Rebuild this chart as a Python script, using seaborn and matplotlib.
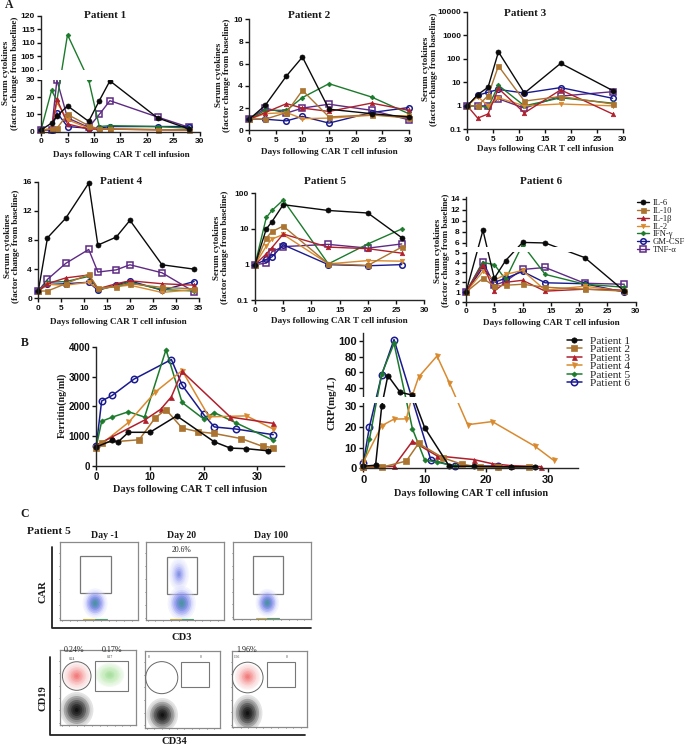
import numpy as np
import matplotlib
matplotlib.use("Agg")
import matplotlib.pyplot as plt
import seaborn as sns
from matplotlib.patches import Ellipse, Rectangle

W, H = 685, 746

# Panel A, factor change from baseline
p1_days = [0, 2, 3, 5, 9, 11, 13, 22, 28]
p1_il6 = [1, 5, 9, 15, 6, 18, 29.5, 8, 1.5]
p1_il10 = [1, 1.5, 2, 10, 3.5, 1.5, 1.5, 1.2, 1]
p1_il1b = [1, 1.5, 19, 4.5, 1.5, 1.5, 1.5, 1.2, 1]
p1_il2 = [1, 1.5, 17, 7, 2, 1.5, 1.5, 1, 1]
p1_ifng = [1, 24, 18, 113, 30, 3, 3.5, 3, 2]
p1_gmcsf = [1, 1.2, 11, 3, 2, 2, 3, 3, 3]
p1_tnfa = [1, 1, 30, 8, 2.5, 10, 18, 8.5, 2.5]

p2_days = [0, 3, 7, 10, 15, 23, 30]
p2_il6 = [1, 2.25, 4.9, 6.6, 1.9, 1.5, 1.2]
p2_il10 = [1, 1, 1.6, 3.6, 1.2, 1.4, 1.1]
p2_il1b = [1, 1.6, 2.4, 2.0, 1.7, 2.45, 1.8]
p2_il2 = [1, 1.5, 1.6, 1.05, 1.1, 1.35, 1.3]
p2_ifng = [1, 1.8, 1.8, 2.95, 4.2, 3.0, 1.5]
p2_gmcsf = [1, 1.0, 0.85, 1.25, 0.65, 1.6, 2.05]
p2_tnfa = [1, 2.0, 1.55, 2.0, 2.35, 1.8, 0.95]

p3_days = [0, 2, 4, 6, 11, 18, 28]
p3_il6 = [1, 3, 6.2, 200, 3.5, 65, 4.5]
p3_il10 = [1, 1, 2.7, 50, 1.6, 2.5, 1.2]
p3_il1b = [1, 0.3, 0.45, 5.5, 0.5, 4.8, 0.45]
p3_il2 = [1, 2.5, 1, 2.2, 1, 1.2, 1]
p3_ifng = [1, 1, 0.85, 7.5, 1, 2.2, 1.3]
p3_gmcsf = [1, 2.8, 3.8, 5, 3.5, 6, 2.1]
p3_tnfa = [1, 1, 1, 2, 0.8, 2.6, 4]

p4_days = [0, 2, 6, 11, 13, 17, 20, 27, 34]
p4_il6 = [1, 8.3, 11, 15.8, 7.3, 8.4, 10.7, 4.6, 4.0]
p4_il10 = [1, 1, 2, 3.3, 1.4, 1.6, 2, 1.5, 1.3]
p4_il1b = [1, 2, 2.8, 3.2, 1.3, 2, 2.4, 2, 1.8]
p4_il2 = [1, 1.9, 1.8, 2.2, 1.3, 1.6, 1.8, 0.8, 1.2]
p4_ifng = [1, 2.2, 2.3, 3, 1.2, 1.7, 2.2, 1.2, 1]
p4_gmcsf = [1, 1.9, 2, 2.2, 1.1, 1.8, 2.4, 1.1, 2.3]
p4_tnfa = [1, 2.6, 4.8, 6.7, 3.6, 3.9, 4.6, 3.5, 0.9]

p5_days = [0, 2, 3, 5, 13, 20, 26]
p5_il6 = [1, 10, 16, 48, 33, 28, 5.7]
p5_il10 = [1, 5.5, 8.5, 12, 1.05, 0.95, 3.1]
p5_il1b = [1, 2, 3, 7.2, 3.1, 2.8, 2.1]
p5_il2 = [1, 3.3, 5.2, 7, 1.05, 1.3, 1.25]
p5_ifng = [1, 21, 33, 65, 1.05, 3.8, 10]
p5_gmcsf = [1, 1.4, 1.65, 3.6, 1.0, 0.93, 1.0]
p5_tnfa = [1, 1.1, 2.3, 3.2, 3.7, 2.9, 3.8]

p6_days = [0, 3, 5, 7, 10, 14, 21, 28]
p6_il6 = [1, 8.3, 2.4, 4.2, 6.1, 6.0, 4.5, 1.1]
p6_il10 = [1, 2.4, 1.6, 1.7, 1.8, 1.5, 1.3, 1.1]
p6_il1b = [1, 3.8, 1.1, 2, 2.2, 1.1, 1.3, 1.2]
p6_il2 = [1, 3.1, 2.2, 2.8, 3.2, 1.2, 1.6, 1.1]
p6_ifng = [1, 4.0, 3.8, 2.3, 5.7, 2.8, 1.8, 1.5]
p6_gmcsf = [1, 3.5, 2, 2.4, 3.1, 1.95, 1.85, 1.0]
p6_tnfa = [1, 4.1, 1.7, 2.1, 3.3, 3.5, 1.9, 1.8]

cytokine_names = ["IL-6", "IL-10", "IL-1β", "IL-2", "IFN-γ", "GM-CSF", "TNF-α"]

# Panel B, ferritin
fer1_days = [0, 3, 4, 6, 10, 15, 22, 25, 28, 32]
fer1 = [640, 860, 800, 1130, 1130, 1680, 810, 600, 580, 510]
fer2_days = [0, 1, 8, 11, 13, 16, 19, 22, 27, 31, 33]
fer2 = [600, 780, 880, 1620, 1890, 1270, 1150, 1090, 920, 660, 620]
fer3_days = [0, 3, 9, 12, 14, 16, 25, 33]
fer3 = [700, 980, 1540, 1900, 2320, 3170, 1640, 1430]
fer4_days = [0, 6, 11, 16, 21, 28, 33]
fer4 = [600, 1460, 2480, 3200, 1650, 1680, 1240]
fer5_days = [0, 1, 3, 6, 9, 13, 16, 20, 22, 26, 33]
fer5 = [650, 1500, 1640, 1820, 1640, 3900, 2130, 1580, 1790, 1450, 860]
fer6_days = [0, 1, 3, 7, 14, 16, 20, 22, 26, 33]
fer6 = [680, 2180, 2370, 2910, 3570, 2710, 1730, 1310, 1240, 1050]

# Panel B, CRP
crp1_days = [0, 2, 3, 4, 6, 8, 10, 14, 18, 24, 28]
crp1 = [1, 1.5, 30, 56, 34.5, 31, 19.5, 1, 1, 0.7, 0.8]
crp2_days = [0, 3, 7, 9, 13, 16, 19, 22, 27]
crp2 = [0.5, 0.5, 3.5, 12, 5, 2, 0.5, 0.5, 0.5]
crp3_days = [0, 5, 8, 12, 18, 21, 24, 29]
crp3 = [0.5, 1, 13, 6, 4.2, 2.2, 1.3, 0.8]
crp4_days = [0, 3, 5, 7, 8, 9, 12, 14, 17, 21, 28, 31]
crp4 = [3, 20.5, 23.7, 23.8, 31, 54, 81, 47, 21, 22.5, 10.5, 3.8]
crp5_days = [0, 1, 3, 5, 8, 10, 12, 15, 22]
crp5 = [1, 14, 58, 97, 19, 4, 3, 1, 0.5]
crp6_days = [0, 1, 3, 5, 11, 15, 22]
crp6 = [2.5, 20, 57, 102, 4, 1, 1]

patient_names = ["Patient 1", "Patient 2", "Patient 3", "Patient 4", "Patient 5", "Patient 6"]

line_colors = ["#0a0a0a", "#ab7430", "#b0202c", "#d98a2e", "#1c7a2c", "#1a1a8f", "#5e2a84"]
patient_colors = ["#0a0a0a", "#ab7430", "#b0202c", "#d98a2e", "#1c7a2c", "#1a1a8f"]
line_markers = ["o", "s", "^", "v", "D", "o", "s"]
patient_markers = ["o", "s", "^", "v", "D", "o"]

sns.set_theme(style="ticks")
plt.rcParams["font.family"] = "Liberation Serif"
plt.rcParams["axes.linewidth"] = 1.0

SANS = "Liberation Sans"
fig = plt.figure(figsize=(W / 100, H / 100), dpi=100)


def px_axes(left, right, top, bottom):
    return fig.add_axes([left / W, 1 - bottom / H, (right - left) / W, (bottom - top) / H])


def px_text(x, y, s, **kw):
    kw.setdefault("ha", "center")
    kw.setdefault("va", "center")
    return fig.text(x / W, 1 - y / H, s, **kw)


def break_axis(ax, data_knots, px_knots, gap):
    # piecewise scale so a segment stays straight across the break, like prism does
    def forward(v):
        return np.interp(v, data_knots, px_knots)

    def inverse(v):
        return np.interp(v, px_knots, data_knots)

    ax.set_yscale("function", functions=(forward, inverse))
    ax.set_ylim(data_knots[0], data_knots[-1])
    # only wide enough to cut the spine, the tick labels stay visible
    ax.add_patch(Rectangle((-0.012, gap[0]), 1.02, gap[1] - gap[0],
                           transform=ax.get_yaxis_transform(), fc="white", ec="none",
                           clip_on=False, zorder=5))


def style_axis(ax, xticks, xlim, yticks, yticklabels=None, size=6.0):
    sns.despine(ax=ax)
    ax.set_xlim(*xlim)
    ax.set_xticks(xticks)
    ax.set_yticks(yticks)
    if yticklabels is not None:
        ax.set_yticklabels(yticklabels)
    ax.minorticks_off()
    ax.tick_params(length=3, width=1.0, pad=1.5, labelsize=size, colors="#111111")
    for lab in ax.get_xticklabels() + ax.get_yticklabels():
        lab.set_fontfamily(SANS)
        lab.set_fontweight("bold")
    ax.set_xlabel("")
    ax.set_ylabel("")
    ax.patch.set_alpha(0)


def draw_series(ax, days, values, color, marker, open_marker, ms, lw=1.0):
    kw = dict(markerfacecolor="none" if open_marker else color)
    sns.lineplot(x=days, y=values, ax=ax, color=color, marker=marker, markersize=ms,
                 markeredgecolor=color, markeredgewidth=1.1 if open_marker else 0.5,
                 linewidth=lw, sort=False, errorbar=None, clip_on=False, **kw)


a_ms = [3.6, 3.6, 3.2, 3.2, 2.4, 4.0, 4.0]


def draw_cytokines(ax, days, series):
    # last cytokine goes down first so IL-6 ends on top
    for i in reversed(range(len(series))):
        draw_series(ax, days, series[i], line_colors[i], line_markers[i], i >= 5, a_ms[i])


YLABEL = "Serum cytokines\n(factor change from baseline)"
XLABEL = "Days following CAR T cell infusion"
bold = dict(fontweight="bold", color="#1a1a1a")

# Patient 1
ax1 = px_axes(41, 200, 16, 131.7)
break_axis(ax1, [0, 30, 100, 120], [0, 51.7, 62.2, 115.7], (31, 99.3))
draw_cytokines(ax1, p1_days, [p1_il6, p1_il10, p1_il1b, p1_il2, p1_ifng, p1_gmcsf, p1_tnfa])
style_axis(ax1, range(0, 31, 5), (0, 30), [0, 10, 20, 30, 100, 105, 110, 115, 120])
px_text(104.7, 15.7, "Patient 1", fontsize=8, **bold)
px_text(121, 154.7, XLABEL, fontsize=6.6, **bold)
px_text(10.5, 73, YLABEL, fontsize=6.6, rotation=90, linespacing=1.1, **bold)

# Patient 2
ax2 = px_axes(249.3, 408.7, 19.3, 130.3)
draw_cytokines(ax2, p2_days, [p2_il6, p2_il10, p2_il1b, p2_il2, p2_ifng, p2_gmcsf, p2_tnfa])
ax2.set_ylim(0, 10)
style_axis(ax2, range(0, 31, 5), (0, 30), [0, 2, 4, 6, 8, 10])
px_text(309, 15, "Patient 2", fontsize=8, **bold)
px_text(329, 152, XLABEL, fontsize=6.6, **bold)
px_text(223, 75, YLABEL, fontsize=6.6, rotation=90, linespacing=1.1, **bold)

# Patient 3
ax3 = px_axes(467.3, 623, 12, 129.3)
draw_cytokines(ax3, p3_days, [p3_il6, p3_il10, p3_il1b, p3_il2, p3_ifng, p3_gmcsf, p3_tnfa])
ax3.set_yscale("log")
ax3.set_ylim(0.1, 10000)
style_axis(ax3, range(0, 31, 5), (0, 30), [0.1, 1, 10, 100, 1000, 10000],
           ["0.1", "1", "10", "100", "1000", "10000"])
px_text(524.7, 14, "Patient 3", fontsize=8, **bold)
px_text(545.5, 149, XLABEL, fontsize=6.6, **bold)
px_text(430, 69, YLABEL, fontsize=6.6, rotation=90, linespacing=1.1, **bold)

# Patient 4
ax4 = px_axes(38.3, 198.7, 181.7, 298.3)
draw_cytokines(ax4, p4_days, [p4_il6, p4_il10, p4_il1b, p4_il2, p4_ifng, p4_gmcsf, p4_tnfa])
ax4.set_ylim(0, 16)
style_axis(ax4, range(0, 36, 5), (0, 35), [0, 4, 8, 12, 16])
px_text(120.7, 182, "Patient 4", fontsize=8, **bold)
px_text(118.5, 321.7, XLABEL, fontsize=6.6, **bold)
px_text(12, 246, YLABEL, fontsize=6.6, rotation=90, linespacing=1.1, **bold)

# Patient 5
ax5 = px_axes(255, 424.3, 193.3, 300.3)
draw_cytokines(ax5, p5_days, [p5_il6, p5_il10, p5_il1b, p5_il2, p5_ifng, p5_gmcsf, p5_tnfa])
ax5.set_yscale("log")
ax5.set_ylim(0.1, 100)
style_axis(ax5, range(0, 31, 5), (0, 30), [0.1, 1, 10, 100], ["0.1", "1", "10", "100"])
px_text(325, 182, "Patient 5", fontsize=8, **bold)
px_text(339.5, 320.7, XLABEL, fontsize=6.6, **bold)
px_text(221, 247.5, YLABEL, fontsize=6.6, rotation=90, linespacing=1.1, **bold)

# Patient 6
ax6 = px_axes(466, 635.7, 196.7, 302)
break_axis(ax6, [0, 5, 5.45, 14.4], [0, 49.3, 56, 105.3], (5.06, 5.4))
draw_cytokines(ax6, p6_days, [p6_il6, p6_il10, p6_il1b, p6_il2, p6_ifng, p6_gmcsf, p6_tnfa])
style_axis(ax6, range(0, 31, 5), (0, 30), [0, 1, 2, 3, 4, 5, 6, 8, 10, 12, 14])
px_text(540.7, 181, "Patient 6", fontsize=8, **bold)
px_text(551, 322.7, XLABEL, fontsize=6.6, **bold)
px_text(442, 250.5, YLABEL, fontsize=6.6, rotation=90, linespacing=1.1, **bold)

# cytokine legend, handles in legend order
handles_a = []
for i in range(7):
    line, = ax6.plot([], [], color=line_colors[i], marker=line_markers[i], lw=1.0, ms=a_ms[i],
                     mfc="none" if i >= 5 else line_colors[i], mec=line_colors[i],
                     mew=1.1 if i >= 5 else 0.5)
    handles_a.append(line)
fig.legend(handles_a, cytokine_names, loc="upper left", bbox_to_anchor=(637 / W, 1 - 199 / H),
           frameon=False, fontsize=6.2, labelspacing=-0.02, handlelength=1.35, handletextpad=0.5,
           borderpad=0, borderaxespad=0, labelcolor="#222222")

# Ferritin
axf = px_axes(96.3, 284, 346.7, 466)
fer_days = [fer1_days, fer2_days, fer3_days, fer4_days, fer5_days, fer6_days]
fer_vals = [fer1, fer2, fer3, fer4, fer5, fer6]
b_ms = [3.8, 3.8, 3.6, 3.6, 2.6, 4.6]
for i in reversed(range(6)):
    draw_series(axf, fer_days[i], fer_vals[i], patient_colors[i], patient_markers[i], i == 5, b_ms[i], lw=1.1)
axf.set_ylim(0, 4000)
style_axis(axf, [0, 10, 20, 30], (0, 35), [0, 1000, 2000, 3000, 4000], size=7.0)
px_text(24.7, 343, "B", fontsize=8.5, **bold)
px_text(190, 489, XLABEL, fontsize=7.4, **bold)
px_text(61.7, 405.8, "Ferritin(ng/ml)", fontsize=7.2, rotation=90, **bold)

# CRP
axc = px_axes(363.3, 578.3, 333.3, 468.3)
break_axis(axc, [0, 30, 30.2, 110], [0, 62.3, 72.6, 135], (30.05, 30.18))
crp_days = [crp1_days, crp2_days, crp3_days, crp4_days, crp5_days, crp6_days]
crp_vals = [crp1, crp2, crp3, crp4, crp5, crp6]
for i in reversed(range(6)):
    draw_series(axc, crp_days[i], crp_vals[i], patient_colors[i], patient_markers[i], i == 5, b_ms[i], lw=1.1)
style_axis(axc, [0, 10, 20, 30], (0, 35), [0, 10, 20, 30, 40, 60, 80, 100], size=8.0)
px_text(471, 493, XLABEL, fontsize=7.4, **bold)
px_text(332, 402.5, "CRP(mg/L)", fontsize=7.8, rotation=90, **bold)

handles_b = []
for i in range(6):
    line, = axc.plot([], [], color=patient_colors[i], marker=patient_markers[i], lw=1.1, ms=b_ms[i],
                     mfc="none" if i == 5 else patient_colors[i], mec=patient_colors[i],
                     mew=1.1 if i == 5 else 0.5)
    handles_b.append(line)
fig.legend(handles_b, patient_names, loc="upper left", bbox_to_anchor=(567 / W, 1 - 336 / H),
           frameon=False, fontsize=8.2, labelspacing=-0.13, handlelength=1.3, handletextpad=0.7,
           borderpad=0, borderaxespad=0, labelcolor="#222222")

# Panel C flow plots, population centre and spread as fractions of each plot
car_boxes = [(60.3, 138.3, 541.7, 620), (146, 224.3, 541.7, 620), (232.7, 310.7, 542.3, 619.3)]
car_gates = [(0.256, 0.646, 0.34, 0.817), (0.265, 0.655, 0.335, 0.81), (0.26, 0.65, 0.33, 0.82)]
car_main_x = [0.446, 0.456, 0.444]
car_main_y = [0.214, 0.214, 0.214]
car_main_rx = [0.16, 0.18, 0.15]
car_main_ry = [0.19, 0.22, 0.18]
car_pos_cluster = [0.42, 0.584, 0.13, 0.21]

cd19_boxes = [(60, 136, 650, 725), (145.3, 220, 650.7, 727.7), (231.7, 306.7, 650.7, 727.3)]
cd19_circles = [(0.22, 0.653, 0.376, 0.381), (0.22, 0.65, 0.43, 0.416), (0.213, 0.65, 0.41, 0.40)]
cd19_rects = [(0.454, 0.892, 0.46, 0.853), (0.482, 0.849, 0.525, 0.85), (0.473, 0.84, 0.52, 0.85)]
cd19_neg_x = [0.22, 0.228, 0.21]
cd19_neg_y = [0.20, 0.165, 0.185]
cd19_neg_rx = [0.22, 0.21, 0.20]
cd19_neg_ry = [0.24, 0.22, 0.24]
cd19_pos = [(0.22, 0.653, 0.18, 0.18), None, (0.213, 0.66, 0.17, 0.17)]


def blob(ax, x, y, rx, ry, colors, alpha=0.28, steps=9):
    for k in range(steps):
        frac = 1 - k / steps
        c = colors[min(int(k / steps * len(colors)), len(colors) - 1)]
        ax.add_patch(Ellipse((x, y), 2 * rx * frac, 2 * ry * frac, fc=c, ec="none", alpha=alpha))


def flow_axes(box, edge):
    ax = px_axes(box[0], box[1], box[2], box[3])
    ax.set_xlim(0, 1)
    ax.set_ylim(0, 1)
    ax.set_xticks(np.arange(0.02, 1, 0.1))
    ax.set_yticks(np.arange(0.03, 1, 0.165))
    ax.tick_params(length=1, width=0.5, labelbottom=False, labelleft=False, color="#444444", direction="out")
    for s in ax.spines.values():
        s.set_color(edge)
        s.set_linewidth(0.9)
    return ax


car_colors = ["#d5d8fc", "#a5abf5", "#6f79ea", "#3d60c8", "#2a8a90", "#2f9a55"]
for i in range(3):
    ax = flow_axes(car_boxes[i], "#8a8a8a")
    g = car_gates[i]
    ax.add_patch(Rectangle((g[0], g[2]), g[1] - g[0], g[3] - g[2], fc="none", ec="#777777", lw=0.9))
    blob(ax, car_main_x[i], car_main_y[i], car_main_rx[i], car_main_ry[i], car_colors)
    if i == 1:
        blob(ax, car_pos_cluster[0], car_pos_cluster[1], car_pos_cluster[2], car_pos_cluster[3],
             car_colors[:4], alpha=0.2)
    ax.plot([car_main_x[i] - 0.15, car_main_x[i]], [0.015, 0.015], color="#c9b040", lw=0.8)
    ax.plot([car_main_x[i], car_main_x[i] + 0.15], [0.015, 0.015], color="#4aa06a", lw=0.8)

neg_colors = ["#c4c4c4", "#707070", "#333333", "#111111", "#000000"]
pos_colors = ["#fbd0d0", "#f9a5a5", "#f57f7f", "#ee5c5c"]
for i in range(3):
    ax = flow_axes(cd19_boxes[i], "#8a8a8a")
    c = cd19_circles[i]
    ax.add_patch(Ellipse((c[0], c[1]), c[2], c[3], fc="none", ec="#666666", lw=0.7, zorder=3))
    r = cd19_rects[i]
    ax.add_patch(Rectangle((r[0], r[2]), r[1] - r[0], r[3] - r[2], fc="none", ec="#777777", lw=0.8, zorder=3))
    blob(ax, cd19_neg_x[i], cd19_neg_y[i], cd19_neg_rx[i], cd19_neg_ry[i], neg_colors, alpha=0.45)
    if cd19_pos[i] is not None:
        p = cd19_pos[i]
        blob(ax, p[0], p[1], p[2], p[3], pos_colors, alpha=0.3)
    if i == 0:
        blob(ax, 0.655, 0.667, 0.19, 0.16, ["#d8f3d2", "#bfeab5", "#9fdd95"], alpha=0.35)

# L shaped frames round the flow plots
overlay = fig.add_axes([0, 0, 1, 1], zorder=-1)
overlay.set_xlim(0, W)
overlay.set_ylim(H, 0)
overlay.axis("off")
overlay.plot([51.7, 51.7, 310.7], [546.7, 627.5, 627.5], color="#222222", lw=1.3)
overlay.plot([50, 50, 305], [656.7, 734.5, 734.5], color="#222222", lw=1.3)

px_text(8.7, 5, "A", fontsize=8.5, **bold)
px_text(25, 514, "C", fontsize=8.5, **bold)
px_text(48.5, 531, "Patient 5", fontsize=8.2, **bold)
px_text(105, 535, "Day -1", fontsize=7, **bold)
px_text(181.7, 535, "Day 20", fontsize=7, **bold)
px_text(271, 535, "Day 100", fontsize=7, **bold)
px_text(182, 549.5, "20.6%", fontsize=5.5, color="#222222")
px_text(43, 592, "CAR", fontsize=7.6, rotation=90, **bold)
px_text(182, 637, "CD3", fontsize=7.6, **bold)
px_text(42.7, 698, "CD19", fontsize=7.6, rotation=90, **bold)
px_text(174, 741, "CD34", fontsize=7.6, **bold)
px_text(74, 650.5, "0.24%", fontsize=5.8, color="#222222")
px_text(112, 650.5, "0.17%", fontsize=5.8, color="#222222")
px_text(247, 650.5, "1.96%", fontsize=5.8, color="#222222")
px_text(72, 659, "0.24", fontsize=2.6, color="#333333")
px_text(110, 657, "0.17", fontsize=2.6, color="#333333")
px_text(148.5, 657, "0", fontsize=2.6, color="#333333")
px_text(201, 657, "0", fontsize=2.6, color="#333333")
px_text(237, 657, "1.96", fontsize=2.6, color="#333333")
px_text(287, 657, "0", fontsize=2.6, color="#333333")

fig.savefig("out.png", dpi=100)
